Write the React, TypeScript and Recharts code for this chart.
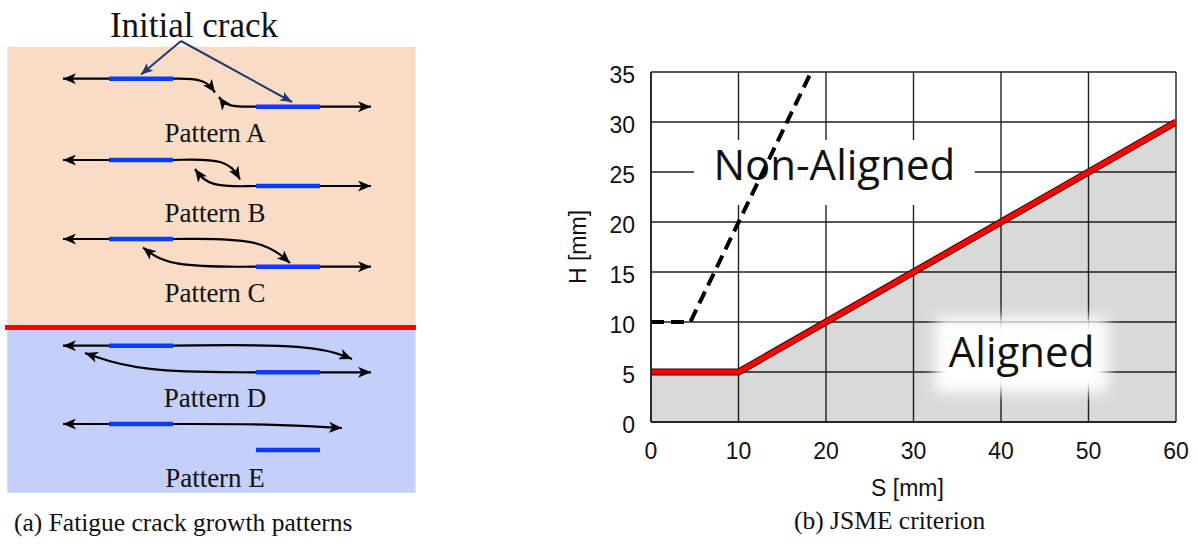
import React from 'react';
import {
  ComposedChart,
  Line,
  Area,
  XAxis,
  YAxis,
  CartesianGrid,
  ReferenceArea,
  Scatter,
} from 'recharts';

// ================= (b) JSME criterion =================
const sTicks = [0, 10, 20, 30, 40, 50, 60];
const hTicks = [0, 5, 10, 15, 20, 25, 30, 35];
// aligned / non-aligned boundary (red)
const alignedS = [0, 10, 60];
const alignedH = [5, 5, 30];
// non-aligned boundary (dashed)
const nonAlignedS = [0, 4.5, 18.3];
const nonAlignedH = [10, 10, 35];
// label regions in data units
const nonAlignedBoxS = [4.9, 37];
const nonAlignedBoxH = [21.7, 28.2];
const alignedBoxS = [32.5, 52.2];
const alignedBoxH = [3.0, 10.4];
const regionNames = ['Non-Aligned', 'Aligned'];

const alignedData = alignedS.map((s, i) => ({ s, h: alignedH[i] }));
const nonAlignedData = nonAlignedS.map((s, i) => ({ s, h: nonAlignedH[i] }));

// ================= (a) Fatigue crack growth patterns (diagram units) =================
const patternNames = ['Pattern A', 'Pattern B', 'Pattern C', 'Pattern D', 'Pattern E'];
const patternLabelY = [141.7, 221.7, 301.7, 407.3, 486.7];
const patternLabelX = 215;
const upperCrackY = [78.7, 160, 239, 345.7, 424];
const lowerCrackY = [106.7, 186, 266.7, 372.3, 450];
const upperCrackX = [109, 173];
const lowerCrackX = [256, 320];
const leftGrowthX = [109, 63];
const rightGrowthX = [320, 371];
const patternsWithRightGrowth = [0, 1, 2, 3];
// coalescence / overlap growth paths: [start, control, tip]
const growthPaths: number[][][] = [
  [[173, 78.7], [205, 78.7], [215, 92.5]],
  [[256, 106.7], [226, 106.7], [219, 97]],
  [[173, 160], [228, 158.5], [240, 179.5]],
  [[256, 186], [208, 187], [195, 169]],
  [[173, 239], [262, 238], [290, 263]],
  [[256, 266.7], [168, 267], [143, 247.5]],
  [[173, 345.7], [315, 344], [352, 359]],
  [[256, 372.3], [140, 372], [85, 353]],
  [[173, 424], [270, 424], [342, 428]],
];
const initialCrackTitle = 'Initial crack';
const initialCrackTitlePos = [194, 36.7];
const initialCrackPointers: number[][][] = [
  [[181, 41], [141, 74.5]],
  [[181, 41], [292, 102]],
];
const upperZoneX = [7.3, 415.5];
const upperZoneY = [46.7, 325];
const lowerZoneX = [7.3, 415.5];
const lowerZoneY = [330, 492.7];
const boundaryX = [5, 416];
const boundaryY = 327.5;

const captionA = '(a) Fatigue crack growth patterns';
const captionB = '(b) JSME criterion';

const serif = "'Liberation Serif', 'Times New Roman', serif";
const sans = "'Liberation Sans', Arial, sans-serif";
const region = "'Open Sans', 'Noto Sans', sans-serif";

const pts = (p: number[][]) => p.map(([x, y]) => ({ x, y }));

const DiagramText = (size: number) => (p: any) => (
  <text
    x={p.cx}
    y={p.cy}
    textAnchor="middle"
    fontFamily={serif}
    fontSize={size}
    fill="#111"
  >
    {p.payload.text}
  </text>
);

const Diagram = () => {
  const labelData = patternNames.map((text, i) => ({ x: patternLabelX, y: patternLabelY[i], text }));
  const titleData = [{ x: initialCrackTitlePos[0], y: initialCrackTitlePos[1], text: initialCrackTitle }];
  const common = { dataKey: 'y', dot: false, activeDot: false, isAnimationActive: false, type: 'linear' as const };
  return (
    <ComposedChart width={420} height={544} margin={{ top: 0, right: 0, bottom: 0, left: 0 }}>
      <XAxis type="number" dataKey="x" domain={[0, 420]} hide allowDataOverflow />
      <YAxis type="number" domain={[0, 544]} reversed hide allowDataOverflow />
      <ReferenceArea x1={upperZoneX[0]} x2={upperZoneX[1]} y1={upperZoneY[0]} y2={upperZoneY[1]} fill="#f8dcc6" fillOpacity={1} stroke="none" />
      <ReferenceArea x1={lowerZoneX[0]} x2={lowerZoneX[1]} y1={lowerZoneY[0]} y2={lowerZoneY[1]} fill="#c4cffa" fillOpacity={1} stroke="none" />
      <Line {...common} data={pts([[boundaryX[0], boundaryY], [boundaryX[1], boundaryY]])} stroke="#ff0000" strokeWidth={5} />
      {upperCrackY.map((y, i) => (
        <Line key={'lg' + i} {...common} data={pts([[leftGrowthX[0], y], [leftGrowthX[1], y]])} stroke="#000" strokeWidth={2.2} markerEnd="url(#arrowBlack)" />
      ))}
      {patternsWithRightGrowth.map((i) => (
        <Line key={'rg' + i} {...common} data={pts([[rightGrowthX[0], lowerCrackY[i]], [rightGrowthX[1], lowerCrackY[i]]])} stroke="#000" strokeWidth={2.2} markerEnd="url(#arrowBlack)" />
      ))}
      {growthPaths.map((g, i) => (
        <Line key={'gp' + i} {...common} type="basis" data={pts(g)} stroke="#000" strokeWidth={2.2} markerEnd="url(#arrowBlack)" />
      ))}
      {upperCrackY.map((y, i) => (
        <Line key={'uc' + i} {...common} data={pts([[upperCrackX[0], y], [upperCrackX[1], y]])} stroke="#0a3cff" strokeWidth={4.6} />
      ))}
      {lowerCrackY.map((y, i) => (
        <Line key={'lc' + i} {...common} data={pts([[lowerCrackX[0], y], [lowerCrackX[1], y]])} stroke="#0a3cff" strokeWidth={4.6} />
      ))}
      {initialCrackPointers.map((g, i) => (
        <Line key={'ip' + i} {...common} data={pts(g)} stroke="#1f3a70" strokeWidth={2} markerEnd="url(#arrowNavy)" />
      ))}
      <Scatter data={titleData} dataKey="y" shape={DiagramText(35)} isAnimationActive={false} />
      <Scatter data={labelData} dataKey="y" shape={DiagramText(27)} isAnimationActive={false} />
    </ComposedChart>
  );
};

const renderNonAligned = (p: any) => {
  const vb = p.viewBox || {};
  return (
    <text x={vb.x + vb.width / 2} y={vb.y + vb.height / 2 + 7.5} textAnchor="middle" fontFamily={region} fontSize={42} fill="#111">
      {regionNames[0]}
    </text>
  );
};
const renderAligned = (p: any) => {
  const vb = p.viewBox || {};
  return (
    <text x={vb.x + vb.width / 2} y={vb.y + vb.height / 2 + 12.3} textAnchor="middle" fontFamily={region} fontSize={42} fill="#111">
      {regionNames[1]}
    </text>
  );
};
const glowShape = (p: any) => (
  <rect x={p.x} y={p.y} width={p.width} height={p.height} fill="#fff" filter="url(#whiteGlow)" />
);
const renderSLabel = (p: any) => {
  const vb = p.viewBox || {};
  return (
    <text x={vb.x + vb.width / 2 - 6} y={vb.y + 74} textAnchor="middle" fontFamily={sans} fontSize={23} fill="#111">
      S [mm]
    </text>
  );
};
const renderHLabel = (p: any) => {
  const vb = p.viewBox || {};
  const cx = vb.x + 18;
  const cy = vb.y + vb.height / 2;
  return (
    <text x={cx} y={cy} transform={`rotate(-90 ${cx} ${cy})`} textAnchor="middle" dominantBaseline="central" fontFamily={sans} fontSize={23} fill="#111">
      H [mm]
    </text>
  );
};

const tickFont = 23;
const tickStyle = { fontSize: tickFont, fill: '#111', fontFamily: sans, style: { fontSize: tickFont } };

const Criterion = () => (
  <ComposedChart width={658} height={544} margin={{ top: 72, right: 22, bottom: 92, left: 20 }}>
    <CartesianGrid stroke="#222" strokeWidth={1.4} />
    <XAxis
      type="number"
      dataKey="s"
      domain={[0, 60]}
      ticks={sTicks}
      interval={0}
      allowDataOverflow
      height={30}
      tickSize={0}
      tickMargin={21}
      tickLine={false}
      fontSize={tickFont}
      tick={tickStyle}
      axisLine={{ stroke: '#1a1a1a', strokeWidth: 1.5 }}
      label={{ content: renderSLabel } as any}
    />
    <YAxis
      type="number"
      domain={[0, 35]}
      ticks={hTicks}
      interval={0}
      allowDataOverflow
      width={91}
      tickSize={0}
      tickMargin={16}
      tickLine={false}
      fontSize={tickFont}
      tick={{ ...tickStyle, dy: 2.5 }}
      axisLine={{ stroke: '#1a1a1a', strokeWidth: 1.5 }}
      label={{ content: renderHLabel } as any}
    />
    <Area data={alignedData} dataKey="h" type="linear" fill="#000" fillOpacity={0.15} stroke="none" isAnimationActive={false} activeDot={false} />
    <ReferenceArea
      x1={nonAlignedBoxS[0]}
      x2={nonAlignedBoxS[1]}
      y1={nonAlignedBoxH[0]}
      y2={nonAlignedBoxH[1]}
      fill="#fff"
      fillOpacity={1}
      stroke="none"
      label={{ content: renderNonAligned } as any}
    />
    <ReferenceArea
      x1={alignedBoxS[0]}
      x2={alignedBoxS[1]}
      y1={alignedBoxH[0]}
      y2={alignedBoxH[1]}
      shape={glowShape}
      label={{ content: renderAligned } as any}
    />
    <Line data={alignedData} dataKey="h" type="linear" stroke="#3a0000" strokeWidth={7} dot={false} activeDot={false} isAnimationActive={false} />
    <Line data={alignedData} dataKey="h" type="linear" stroke="#ff0000" strokeWidth={5} dot={false} activeDot={false} isAnimationActive={false} />
    <Line data={nonAlignedData} dataKey="h" type="linear" stroke="#000" strokeWidth={4} strokeDasharray="13 7" dot={false} activeDot={false} isAnimationActive={false} />
  </ComposedChart>
);

export default function App() {
  return (
    <div style={{ position: 'absolute', left: 0, top: 0, width: 1198, height: 544, background: '#fff', overflow: 'hidden' }}>
      <svg width={0} height={0} style={{ position: 'absolute' }}>
        <defs>
          <marker id="arrowBlack" viewBox="0 0 13 11" refX={13} refY={5.5} markerWidth={13} markerHeight={11} markerUnits="userSpaceOnUse" orient="auto">
            <path d="M0,0 L13,5.5 L0,11 L3.5,5.5 Z" fill="#000" />
          </marker>
          <marker id="arrowNavy" viewBox="0 0 12 10" refX={12} refY={5} markerWidth={12} markerHeight={10} markerUnits="userSpaceOnUse" orient="auto">
            <path d="M0,0 L12,5 L0,10 L3,5 Z" fill="#1f3a70" />
          </marker>
          <filter id="whiteGlow" x="-50%" y="-50%" width="200%" height="200%">
            <feGaussianBlur stdDeviation={7} />
          </filter>
        </defs>
      </svg>
      <div style={{ position: 'absolute', left: 0, top: 0 }}>
        <Diagram />
      </div>
      <div style={{ position: 'absolute', left: 540, top: 0 }}>
        <Criterion />
      </div>
      <svg width={1198} height={544} style={{ position: 'absolute', left: 0, top: 0, pointerEvents: 'none' }}>
        <text x={14} y={531} fontFamily={serif} fontSize={25.5} fill="#111">{captionA}</text>
        <text x={794} y={529} fontFamily={serif} fontSize={25.5} fill="#111">{captionB}</text>
      </svg>
    </div>
  );
}
